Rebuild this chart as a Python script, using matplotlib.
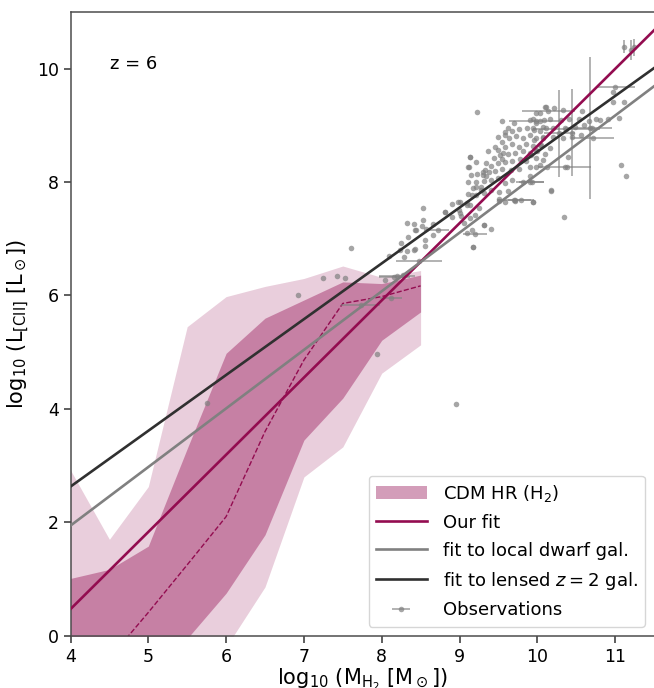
import numpy as np
import matplotlib
matplotlib.use("Agg")
import matplotlib.pyplot as plt
from matplotlib.patches import Patch

# ---- simulation bands: log10 M_H2 bins and log10 L_[CII] percentiles ----
mass_bins = [4.0, 4.5, 5.0, 5.5, 6.0, 6.5, 7.0, 7.5, 8.0, 8.5]
outer_lo = [-1.5, -1.5, -1.5, -1.5, -0.2, 0.86, 2.80, 3.33, 4.63, 5.13]
outer_hi = [2.92, 1.70, 2.63, 5.45, 5.98, 6.16, 6.30, 6.52, 6.32, 6.44]
inner_lo = [-1.0, -1.0, -1.0, -0.05, 0.75, 1.78, 3.45, 4.19, 5.21, 5.71]
inner_hi = [1.01, 1.17, 1.58, 3.30, 4.98, 5.60, 5.92, 6.24, 6.21, 6.36]
median = [-1.20, -0.40, 0.41, 1.25, 2.10, 3.60, 4.86, 5.86, 5.98, 6.17]

# ---- linear fits: (slope, intercept) ----
fit_ours = (1.361, -4.975)
fit_dwarf = (1.033, -2.190)
fit_lensed = (0.984, -1.306)
fit_range = [4.0, 11.5]

# ---- observations without error bars ----
obs_x = [5.76, 6.92, 7.25, 7.42, 7.53, 7.60, 7.94, 8.95, 8.04, 8.10, 8.27, 8.29,
         8.32, 8.42, 8.43, 8.53, 8.53, 8.52, 8.44, 8.34, 8.25, 8.32, 8.43, 8.56,
         8.56, 8.66, 8.66, 8.81, 8.24, 8.42, 8.57, 8.91, 8.98, 9.00, 9.06, 9.09,
         9.16, 9.32, 9.40, 9.20, 9.09, 9.21, 9.28, 9.21, 9.11, 9.15, 9.33, 9.34,
         9.56, 9.58, 9.51, 9.59, 9.23, 9.54, 9.14, 9.11, 9.17, 9.34, 9.55,
         10.11, 10.03, 9.90, 9.98, 10.09,
         9.58, 9.67, 9.77, 9.87, 9.94, 10.03, 10.11,
         9.54, 9.63, 9.73, 9.82, 9.90, 9.98, 10.07,
         9.49, 9.59, 9.68, 9.77, 9.86, 9.95, 10.05,
         9.44, 9.52, 9.62, 9.71, 9.81, 9.90, 9.99, 10.10,
         9.41, 9.49, 9.59, 9.68, 9.78, 9.86, 9.98,
         9.30, 9.38, 9.46, 9.55, 9.66, 9.76, 9.90, 10.03,
         9.14, 9.12, 9.23, 9.21, 9.31, 9.41, 9.49, 9.59, 9.68, 9.81,
         9.17, 9.28, 9.41, 9.51, 9.62, 9.32, 9.11, 9.16, 9.00, 9.09, 8.82, 8.99,
         9.02, 9.14, 9.31, 9.51, 9.71, 9.94, 9.21, 9.30, 8.91, 9.14, 9.25,
         10.22, 10.10, 10.33, 9.98, 10.58, 10.75, 10.80, 10.66, 10.53, 10.41,
         10.31, 10.16, 10.03, 9.94, 10.48, 10.60, 10.70, 10.35, 10.20, 10.07,
         9.96, 10.45, 10.56, 10.33, 10.20, 10.07, 9.96, 10.03, 9.98, 10.16,
         10.39, 9.92, 10.07, 9.98, 10.13, 10.38, 9.90, 10.18,
         10.97, 11.11, 10.97, 11.05, 10.91, 11.07, 11.14, 10.34, 10.17, 9.94,
         9.71, 9.17, 9.45, 9.62, 9.36, 9.50, 9.70]
obs_y = [4.11, 6.00, 6.30, 6.34, 6.30, 6.83, 4.97, 4.08, 6.27, 6.70, 6.36, 6.67,
         7.28, 7.26, 7.16, 7.54, 7.33, 7.23, 7.16, 7.04, 6.92, 6.79, 6.82, 6.98,
         6.87, 7.26, 7.06, 7.48, 6.80, 6.81, 7.17, 7.39, 7.64, 7.45, 7.28, 7.10,
         7.16, 7.24, 7.18, 7.42, 7.63, 7.77, 7.86, 7.92, 8.01, 8.13, 8.21, 8.33,
         8.51, 8.83, 7.71, 7.65, 9.23, 9.08, 8.44, 8.26, 6.85, 8.10, 8.40,
         9.32, 9.21, 9.09, 9.04, 9.10,
         8.88, 8.90, 8.94, 8.96, 8.95, 8.90, 8.95,
         8.71, 8.78, 8.82, 8.78, 8.83, 8.77, 8.78,
         8.57, 8.62, 8.67, 8.62, 8.67, 8.64, 8.65,
         8.42, 8.47, 8.50, 8.52, 8.55, 8.51, 8.55, 8.49,
         8.29, 8.33, 8.36, 8.37, 8.41, 8.37, 8.43,
         8.13, 8.17, 8.20, 8.23, 8.21, 8.23, 8.27, 8.31,
         8.44, 8.27, 8.15, 8.00, 8.02, 8.04, 8.07, 7.99, 8.04, 8.01,
         7.89, 7.92, 7.86, 7.82, 7.84, 7.80, 7.79, 7.77, 7.65, 7.60, 7.48, 7.51,
         7.41, 7.36, 7.24, 7.67, 7.67, 7.64, 8.36, 8.18, 7.62, 7.60, 7.54,
         9.30, 9.32, 9.27, 9.22, 9.26, 9.12, 9.10, 9.07, 9.12, 9.11,
         9.10, 9.12, 9.07, 9.11, 8.98, 9.01, 8.95, 8.95, 8.95, 8.98,
         8.92, 8.80, 8.83, 8.77, 8.80, 8.80, 8.74, 8.65, 8.57, 8.60,
         8.45, 8.48, 8.39, 8.27, 8.27, 8.27, 8.10, 7.86,
         9.58, 9.42, 9.42, 9.13, 9.11, 8.30, 8.11, 7.38, 7.85, 7.64,
         7.68, 6.85, 8.62, 8.95, 8.55, 8.80, 9.05]

# ---- observations with horizontal error bars ----
obsx_x = [10.14, 9.98, 10.37, 10.71, 10.35, 9.93, 9.79, 9.20, 8.48, 8.16,
          7.73, 11.00, 8.20, 8.72, 8.12, 9.90, 9.70]
obsx_y = [9.26, 9.07, 8.93, 8.78, 8.27, 8.00, 7.68, 7.08, 6.60, 6.33,
          5.84, 9.68, 6.34, 7.16, 5.95, 8.00, 7.68]
obsx_xerr = [0.34, 0.34, 0.43, 0.28, 0.34, 0.16, 0.17, 0.15, 0.29, 0.20,
             0.25, 0.25, 0.23, 0.15, 0.14, 0.18, 0.22]

# ---- observations with vertical error bars ----
obsy_x = [10.68, 10.28, 10.45, 11.11, 11.20, 11.24]
obsy_y = [8.96, 8.86, 8.87, 10.39, 10.33, 10.38]
obsy_xerr = [0.28, 0.20, 0.0, 0.0, 0.0, 0.0]
obsy_yerr = [1.25, 0.77, 0.77, 0.12, 0.17, 0.15]

band_color = "#930c50"
fit_color = "#930c50"
dwarf_color = "#808080"
lensed_color = "#303030"
obs_color = "#808080"

plt.rcParams["font.family"] = ["DejaVu Sans"]
plt.rcParams["mathtext.fontset"] = "dejavusans"

fig = plt.figure(figsize=(6.54, 6.88), dpi=100)
ax = fig.add_axes([0.1078, 0.076, 0.8922, 0.9066])

ax.fill_between(mass_bins, outer_lo, outer_hi, color=band_color, alpha=0.2,
                linewidth=0, zorder=1)
ax.fill_between(mass_bins, inner_lo, inner_hi, color=band_color, alpha=0.4,
                linewidth=0, zorder=1)
ax.plot(mass_bins, median, color=band_color, lw=1.0, ls="--", zorder=2)

obs_style = dict(fmt="o", ms=4.0, color=obs_color, ecolor=obs_color,
                 elinewidth=1.2, capsize=0, alpha=0.7, mec="none", zorder=3)
ax.plot(obs_x, obs_y, "o", ms=4.0, color=obs_color, alpha=0.7, mec="none",
        zorder=3)
obs_handle = ax.errorbar(obsx_x, obsx_y, xerr=obsx_xerr, **obs_style)
ax.errorbar(obsy_x, obsy_y, xerr=obsy_xerr, yerr=obsy_yerr, **obs_style)

xf = np.array(fit_range)
l_ours, = ax.plot(xf, fit_ours[0] * xf + fit_ours[1], color=fit_color,
                  lw=1.9, zorder=4)
l_dwarf, = ax.plot(xf, fit_dwarf[0] * xf + fit_dwarf[1], color=dwarf_color,
                   lw=1.9, zorder=4)
l_lensed, = ax.plot(xf, fit_lensed[0] * xf + fit_lensed[1],
                    color=lensed_color, lw=1.9, zorder=4)

ax.set_xlim(4, 11.5)
ax.set_ylim(0, 11)
ax.set_xticks([4, 5, 6, 7, 8, 9, 10, 11])
ax.set_yticks([0, 2, 4, 6, 8, 10])
ax.tick_params(labelsize=12.5, length=5, width=1.1, color="0.2")
for side in ("left", "bottom", "top"):
    ax.spines[side].set_color("0.3")
    ax.spines[side].set_linewidth(1.1)
ax.spines["right"].set_visible(False)

ax.set_xlabel(r"log$_{10}$ (M$_{\rm H_2}$ [M$_\odot$])", fontsize=15,
              labelpad=1)
ax.set_ylabel(r"log$_{10}$ (L$_{\rm [CII]}$ [L$_\odot$])", fontsize=15)

ax.text(4.51, 10.09, "z = 6", fontsize=13, va="center", ha="left")

band_patch = Patch(facecolor=band_color, alpha=0.4, edgecolor="none")
ax.legend([band_patch, l_ours, l_dwarf, l_lensed, obs_handle],
          [r"CDM HR (H$_2$)", "Our fit", "fit to local dwarf gal.",
           r"fit to lensed $z = 2$ gal.", "Observations"],
          loc="lower right", fontsize=13, handlelength=2.8,
          handletextpad=0.9, labelspacing=0.55)

fig.savefig("out.png", dpi=100)
